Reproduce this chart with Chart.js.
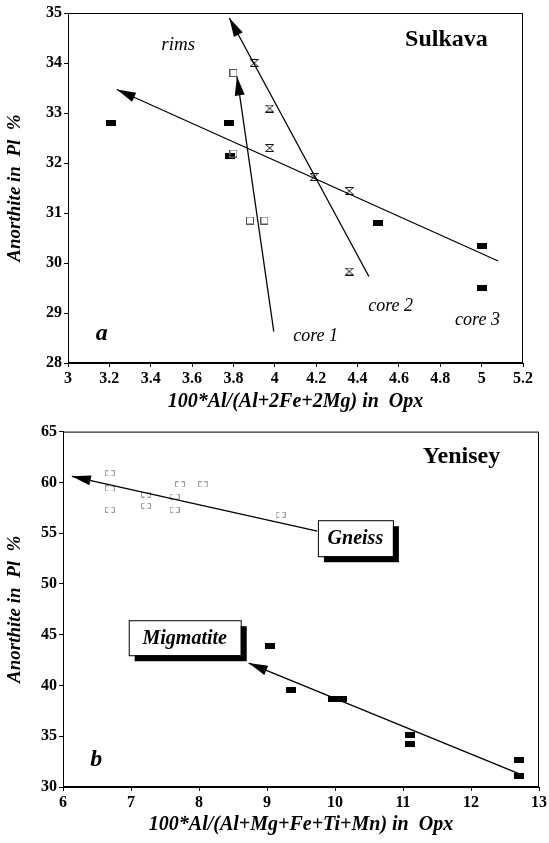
<!DOCTYPE html>
<html>
<head>
<meta charset="utf-8">
<script src="https://cdn.jsdelivr.net/npm/chart.js@4.4.1/dist/chart.umd.min.js"></script>
<style>
  html, body { margin: 0; padding: 0; background: #fff; }
  #wrap { position: relative; width: 549px; height: 843px; overflow: hidden; }
  canvas { position: absolute; left: 0; }
  #topChart { top: 0; }
  #botChart { top: 420px; }
</style>
</head>
<body>
<div id="wrap">
  <canvas id="topChart" width="549" height="420"></canvas>
  <canvas id="botChart" width="549" height="423"></canvas>
</div>
<script>
// ── DATA: (a) Sulkava ─────────────────────────
const sulkXTicks = [3, 3.2, 3.4, 3.6, 3.8, 4, 4.2, 4.4, 4.6, 4.8, 5, 5.2];
const sulkYTicks = [28, 29, 30, 31, 32, 33, 34, 35];

const sulkSolidX = [3.21, 3.78, 3.785, 4.5, 5.0, 5.0];
const sulkSolidY = [32.8, 32.8, 32.14, 30.8, 30.34, 29.5];
const sulkOpenX = [3.8, 3.8, 3.88, 3.95];
const sulkOpenY = [33.8, 32.19, 30.85, 30.85];
const sulkHourX = [3.9, 3.975, 3.975, 4.19, 4.36, 4.36];
const sulkHourY = [34.0, 33.09, 32.3, 31.72, 31.44, 29.83];

// trend lines: first point = arrow tip
const core1X = [3.817, 3.995];
const core1Y = [33.73, 28.63];
const core2X = [3.78, 4.455];
const core2Y = [34.9, 29.73];
const core3X = [3.236, 5.08];
const core3Y = [33.47, 30.04];

// ── DATA: (b) Yenisey ─────────────────────────
const yenXTicks = [6, 7, 8, 9, 10, 11, 12, 13];
const yenYTicks = [30, 35, 40, 45, 50, 55, 60, 65];

const gneissX = [6.69, 6.69, 6.69, 7.22, 7.22, 7.64, 7.64, 7.72, 8.06, 9.2];
const gneissY = [60.9, 59.4, 57.3, 58.8, 57.7, 58.6, 57.3, 59.8, 59.8, 56.8];
const migX = [9.04, 9.36, 9.97, 10.11, 11.1, 11.1, 12.7, 12.7];
const migY = [43.9, 39.6, 38.66, 38.66, 35.17, 34.28, 32.65, 31.1];

const gneissLineX = [6.13, 9.74];
const gneissLineY = [60.6, 55.2];
const migLineX = [8.73, 12.72];
const migLineY = [42.2, 31.27];

// ── HELPERS ──────────────────────────────────
const SERIF = '"Liberation Serif", "DejaVu Serif", serif';

function pts(xs, ys) {
  return xs.map((x, i) => ({ x, y: ys[i] }));
}

function marker(w, h, draw) {
  const c = document.createElement("canvas");
  c.width = w;
  c.height = h;
  draw(c.getContext("2d"), w, h);
  return c;
}

const solidSq = marker(10, 6, (g, w, h) => {
  g.fillStyle = "#000";
  g.fillRect(0, 0, w, h);
});
const openSq = marker(8, 8, (g, w, h) => {
  g.strokeStyle = "#555";
  g.lineWidth = 1;
  g.strokeRect(0.5, 0.5, w - 1, h - 1);
});
// faint "[ ]" pair seen on the gneiss points
const faintSq = marker(10, 6, (g, w, h) => {
  g.strokeStyle = "#9a9a9a";
  g.lineWidth = 1;
  g.beginPath();
  g.moveTo(3.5, 0.5); g.lineTo(0.5, 0.5); g.lineTo(0.5, h - 0.5); g.lineTo(3.5, h - 0.5);
  g.moveTo(6.5, 0.5); g.lineTo(w - 0.5, 0.5); g.lineTo(w - 0.5, h - 0.5); g.lineTo(6.5, h - 0.5);
  g.stroke();
});
const hourglass = marker(9, 8, (g, w, h) => {
  g.strokeStyle = "#111";
  g.lineWidth = 1;
  g.beginPath();
  g.moveTo(0.5, 0.5);
  g.lineTo(w - 0.5, 0.5);
  g.lineTo(0.5, h - 0.5);
  g.lineTo(w - 0.5, h - 0.5);
  g.closePath();
  g.stroke();
});

function scatterSet(data, style) {
  return { data, pointStyle: style, pointRadius: 4, showLine: false };
}

function lineSet(data) {
  return {
    data, showLine: true, arrow: true, pointRadius: 0,
    borderColor: "#000", borderWidth: 1.3, clip: false
  };
}

function arrowHead(ctx, tx, ty, fx, fy) {
  const a = Math.atan2(ty - fy, tx - fx);
  const len = 19, half = 5;
  const bx = tx - len * Math.cos(a), by = ty - len * Math.sin(a);
  ctx.beginPath();
  ctx.moveTo(tx, ty);
  ctx.lineTo(bx + half * Math.sin(a), by - half * Math.cos(a));
  ctx.lineTo(bx - half * Math.sin(a), by + half * Math.cos(a));
  ctx.closePath();
  ctx.fill();
}

// frame, arrow heads, boxed labels and free text
const decor = {
  id: "decor",
  afterDatasetsDraw(chart, args, opts) {
    const { ctx, chartArea: a, scales: { x, y } } = chart;
    ctx.save();
    ctx.strokeStyle = "#000";
    ctx.fillStyle = "#000";
    ctx.lineWidth = 1;
    ctx.strokeRect(a.left + 0.5, a.top + 0.5, a.width - 1, a.height - 1);

    chart.data.datasets.forEach((ds, i) => {
      if (!ds.arrow) return;
      const p = chart.getDatasetMeta(i).data;
      arrowHead(ctx, p[0].x, p[0].y, p[1].x, p[1].y);
    });

    (opts.boxes || []).forEach(b => {
      const cx = x.getPixelForValue(b.x), cy = y.getPixelForValue(b.y);
      const l = cx - b.w / 2, t = cy - b.h / 2;
      ctx.fillStyle = "#000";
      ctx.fillRect(l + 6, t + 6, b.w, b.h);
      ctx.fillStyle = "#fff";
      ctx.fillRect(l, t, b.w, b.h);
      ctx.strokeRect(l + 0.5, t + 0.5, b.w, b.h);
      ctx.fillStyle = "#000";
      ctx.font = 'italic bold 20px ' + SERIF;
      ctx.textAlign = "center";
      ctx.textBaseline = "middle";
      ctx.fillText(b.text, cx, cy + 1);
    });

    (opts.labels || []).forEach(t => {
      ctx.fillStyle = "#000";
      ctx.font = t.font + " " + SERIF;
      ctx.textAlign = "center";
      ctx.textBaseline = "middle";
      ctx.fillText(t.text, x.getPixelForValue(t.x), y.getPixelForValue(t.y));
    });
    ctx.restore();
  }
};

function axis(ticks, min, max, title, size, titlePad, isY) {
  return {
    type: "linear",
    min, max,
    afterBuildTicks: s => { s.ticks = ticks.map(v => ({ value: v })); },
    afterFit: s => { if (isY) s.width = size; else s.height = size; },
    grid: { display: true, drawOnChartArea: false, drawTicks: true, tickLength: 4, color: "#000" },
    border: { display: true, color: "#000", width: 1 },
    ticks: {
      color: "#000", padding: 2, autoSkip: false, maxRotation: 0,
      font: { family: SERIF, size: 16, weight: "bold" },
      callback: v => String(Math.round(v * 10) / 10)
    },
    title: {
      display: true, text: title, color: "#000", padding: titlePad,
      font: { family: SERIF, size: isY ? 19 : 20, weight: "bold", style: "italic" }
    }
  };
}

function baseOptions(pad, xAxis, yAxis, decorOpts) {
  return {
    responsive: false,
    animation: false,
    layout: { padding: pad },
    plugins: { legend: { display: false }, tooltip: { enabled: false }, decor: decorOpts },
    scales: { x: xAxis, y: yAxis }
  };
}

// ── (a) SULKAVA ──────────────────────────────
new Chart(document.getElementById("topChart"), {
  type: "scatter",
  data: {
    datasets: [
      lineSet(pts(core3X, core3Y)),
      lineSet(pts(core2X, core2Y)),
      lineSet(pts(core1X, core1Y)),
      scatterSet(pts(sulkOpenX, sulkOpenY), openSq),
      scatterSet(pts(sulkHourX, sulkHourY), hourglass),
      scatterSet(pts(sulkSolidX, sulkSolidY), solidSq)
    ]
  },
  options: baseOptions(
    { top: 13, right: 26, left: 0, bottom: 0 },
    axis(sulkXTicks, 3, 5.2, "100*Al/(Al+2Fe+2Mg) in  Opx", 57, { top: 0, bottom: 6 }, false),
    axis(sulkYTicks, 28, 35, "Anorthite in  Pl  %", 68, { top: 4, bottom: 0 }, true),
    {
      labels: [
        { text: "rims", x: 3.533, y: 34.36, font: "italic 19px" },
        { text: "Sulkava", x: 4.83, y: 34.46, font: "bold 24px" },
        { text: "core 1", x: 4.197, y: 28.53, font: "italic 18px" },
        { text: "core 2", x: 4.56, y: 29.14, font: "italic 18px" },
        { text: "core 3", x: 4.98, y: 28.86, font: "italic 18px" },
        { text: "a", x: 3.163, y: 28.58, font: "italic bold 24px" }
      ]
    }
  ),
  plugins: [decor]
});

// ── (b) YENISEY ──────────────────────────────
new Chart(document.getElementById("botChart"), {
  type: "scatter",
  data: {
    datasets: [
      lineSet(pts(gneissLineX, gneissLineY)),
      lineSet(pts(migLineX, migLineY)),
      scatterSet(pts(gneissX, gneissY), faintSq),
      scatterSet(pts(migX, migY), solidSq)
    ]
  },
  options: baseOptions(
    { top: 10, right: 8, left: 0, bottom: 0 },
    axis(yenXTicks, 6, 13, "100*Al/(Al+Mg+Fe+Ti+Mn) in  Opx", 56, { top: 0, bottom: 6 }, false),
    axis(yenYTicks, 30, 65, "Anorthite in  Pl  %", 63, { top: 4, bottom: 0 }, true),
    {
      boxes: [
        { text: "Gneiss", x: 10.3, y: 54.5, w: 75, h: 36 },
        { text: "Migmatite", x: 7.79, y: 44.7, w: 112, h: 35 }
      ],
      labels: [
        { text: "Yenisey", x: 11.86, y: 62.55, font: "bold 24px" },
        { text: "b", x: 6.49, y: 32.65, font: "italic bold 24px" }
      ]
    }
  ),
  plugins: [decor]
});
</script>
</body>
</html>
